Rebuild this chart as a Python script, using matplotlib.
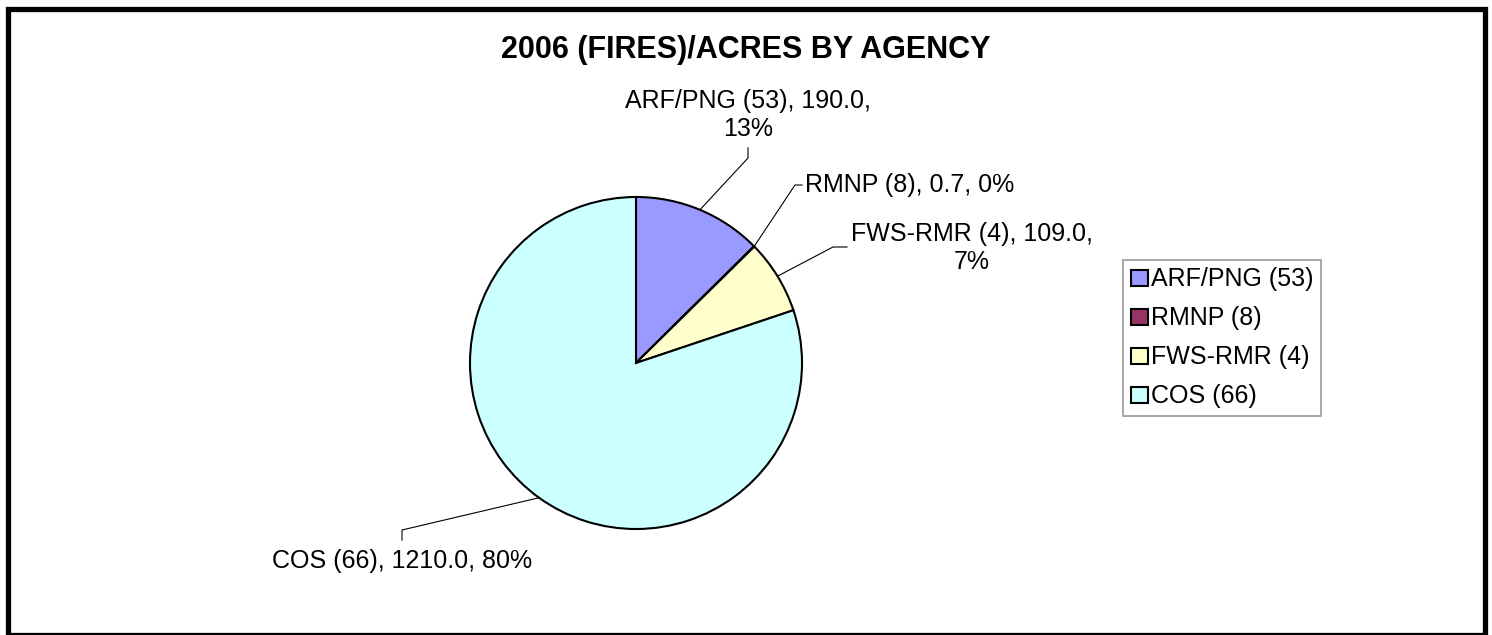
import matplotlib
matplotlib.use("Agg")
import matplotlib.pyplot as plt
from matplotlib.patches import Rectangle
import numpy as np

plt.rcParams['font.family'] = ['Liberation Sans', 'DejaVu Sans']

# data
agencies = ['ARF/PNG (53)', 'RMNP (8)', 'FWS-RMR (4)', 'COS (66)']
acres = [190.0, 0.7, 109.0, 1210.0]
colors = ['#9999FF', '#993366', '#FFFFCC', '#CCFFFF']
title = '2006 (FIRES)/ACRES BY AGENCY'

W, H = 1492, 635
fig = plt.figure(figsize=(W / 100, H / 100), dpi=100)

# pie placement in pixels
cx, cy, r = 636, 363, 166
pie_ax = fig.add_axes([(cx - r) / W, (H - cy - r) / H, 2 * r / W, 2 * r / H])
wedges, _ = pie_ax.pie(acres, colors=colors, startangle=90, counterclock=False,
                       wedgeprops=dict(edgecolor='black', linewidth=1.5))
pie_ax.set_xlim(-1, 1)
pie_ax.set_ylim(-1, 1)
pie_ax.set_aspect('auto')

# overlay axes in pixel coords for labels, leader lines and frame
ov = fig.add_axes([0, 0, 1, 1], zorder=-1)
ov.set_xlim(0, W)
ov.set_ylim(H, 0)
ov.axis('off')
ov.add_patch(Rectangle((7.5, 8.5), W - 15, H - 9, fill=False,
                       edgecolor='black', linewidth=3.8))

ov.text(746, 50, title, ha='center', va='center', fontsize=22,
        fontweight='bold')

total = sum(acres)
pct = [round(100 * a / total) for a in acres]
texts = [f'{n}, {a:.1f}, {p}%' for n, a, p in zip(agencies, acres, pct)]
texts[0] = texts[0].replace(f' {pct[0]}%', f'\n{pct[0]}%')
texts[2] = texts[2].replace(f' {pct[2]}%', f'\n{pct[2]}%')

# elbow point, tick end, text anchor, alignment for each label
layout = [
    ((748, 158), (748, 148), (748, 141), 'center', 'bottom'),
    ((795, 185), (802, 185), (805, 185), 'left', 'center'),
    ((833, 247), (847, 247), (851, 248), 'left', 'center'),
    ((402, 530), (402, 540), (402, 549), 'center', 'top'),
]

for w, txt, (elbow, tick, tpos, ha, va) in zip(wedges, texts, layout):
    mid = np.deg2rad((w.theta1 + w.theta2) / 2)
    ax_pt = (cx + r * np.cos(mid), cy - r * np.sin(mid))
    ov.plot([ax_pt[0], elbow[0], tick[0]], [ax_pt[1], elbow[1], tick[1]],
            color='black', linewidth=0.8, zorder=5, clip_on=False)
    ov.text(tpos[0], tpos[1], txt, ha=ha, va=va, fontsize=18,
            multialignment='center', linespacing=1.2)

leg = fig.legend(wedges, agencies, loc='upper left',
                 bbox_to_anchor=(1123 / W, 1 - 260 / H),
                 fontsize=18, frameon=True, fancybox=False,
                 handlelength=0.7, handleheight=0.6, handletextpad=0.12,
                 labelspacing=0.6, borderpad=0.3, borderaxespad=0)
leg.get_frame().set_edgecolor('#808080')
leg.get_frame().set_linewidth(1.2)
for h in leg.legend_handles:
    h.set_linewidth(1.5)

fig.savefig('out.png', dpi=100)
